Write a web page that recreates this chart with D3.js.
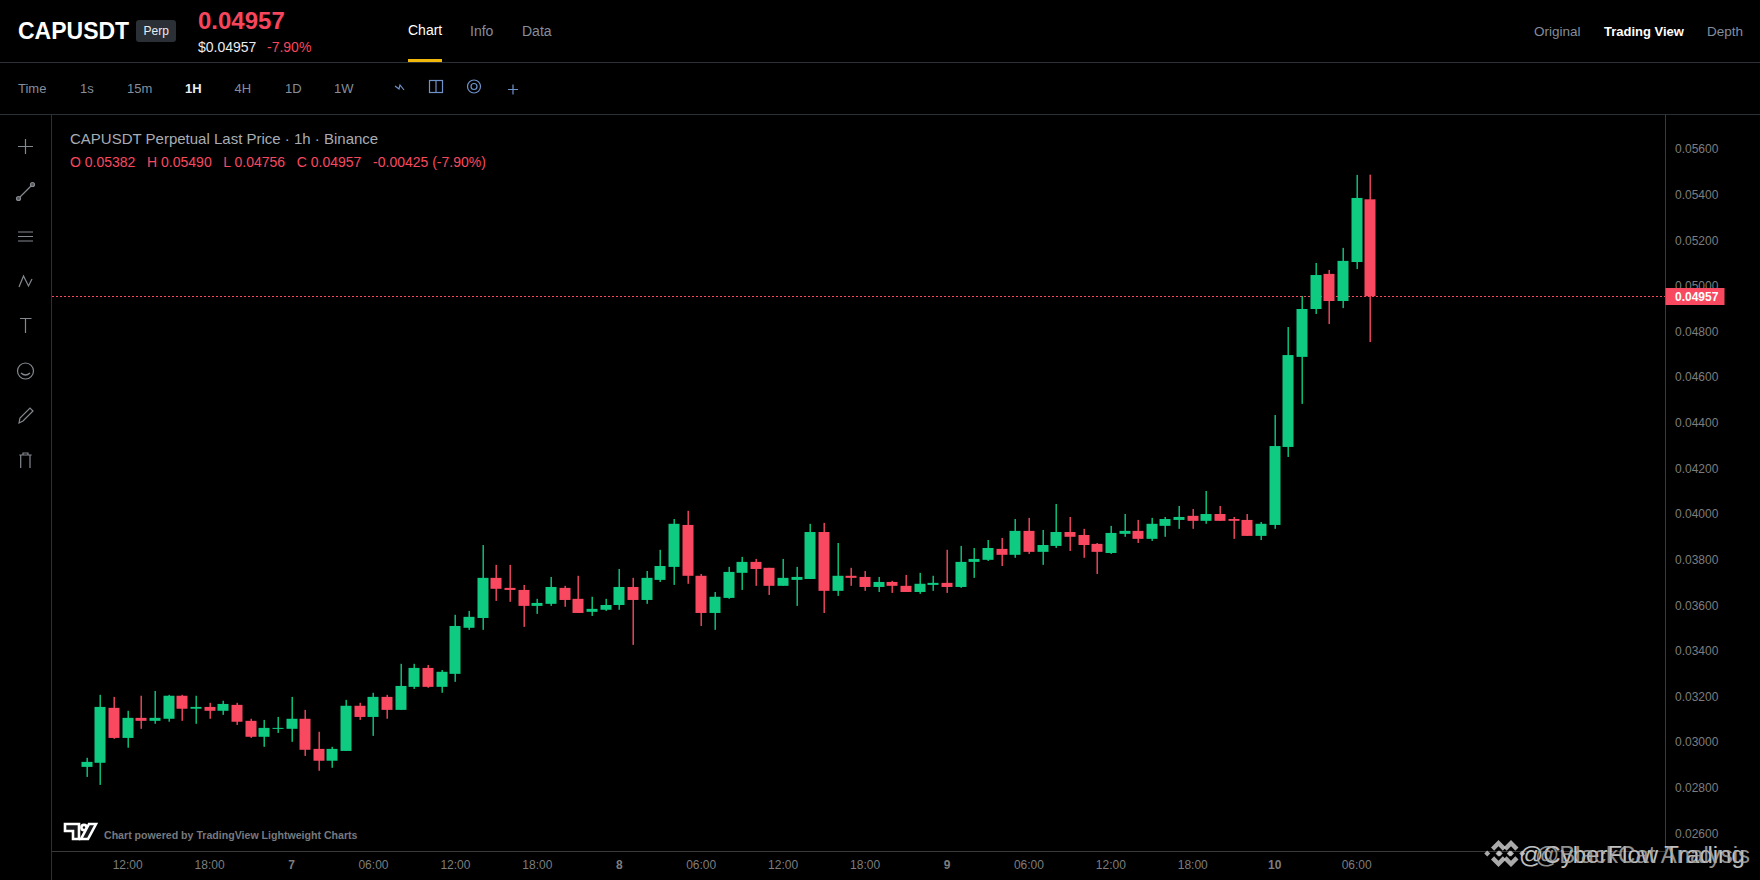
<!DOCTYPE html>
<html>
<head>
<meta charset="utf-8">
<script src="https://cdn.jsdelivr.net/npm/d3@7"></script>
<style>
html, body { margin: 0; padding: 0; background: #000; overflow: hidden; }
svg { display: block; font-family: "Liberation Sans", Arial, sans-serif; }
</style>
</head>
<body>
<svg id="chart" width="1760" height="880"></svg>
<script>
// hourly candles, 6th 09:00 to 10th 07:00
var opens = [.02893,.02911,.03152,.03020,.03108,.03095,.03104,.03205,.03148,.03156,.03139,.03165,.03095,.03025,.03060,.03060,.03104,.02972,.02920,.02963,.03161,.03112,.03200,.03143,.03244,.03327,.03244,.03301,.03503,.03546,.03722,.03678,.03669,.03599,.03608,.03678,.03630,.03573,.03582,.03603,.03682,.03625,.03713,.03770,.03954,.03731,.03568,.03634,.03744,.03792,.03766,.03687,.03713,.03717,.03923,.03665,.03731,.03726,.03682,.03704,.03687,.03660,.03691,.03700,.03682,.03792,.03801,.03849,.03823,.03928,.03836,.03862,.03923,.03910,.03871,.03831,.03915,.03928,.03893,.03950,.03976,.03994,.03972,.04002,.03980,.03976,.03906,.03954,.04296,.04691,.04901,.05055,.04936,.05107,.05382];
var highs = [.02933,.03209,.03200,.03139,.03205,.03226,.03209,.03209,.03205,.03174,.03183,.03174,.03104,.03099,.03112,.03200,.03143,.03047,.02981,.03187,.03174,.03218,.03209,.03345,.03345,.03340,.03318,.03560,.03577,.03866,.03779,.03779,.03691,.03630,.03726,.03687,.03731,.03639,.03630,.03761,.03722,.03752,.03845,.03980,.04016,.03739,.03660,.03770,.03814,.03805,.03766,.03805,.03770,.03959,.03963,.03875,.03766,.03752,.03726,.03709,.03735,.03744,.03731,.03845,.03862,.03853,.03888,.03897,.03980,.03985,.03932,.04046,.03989,.03937,.03875,.03950,.04002,.03976,.03985,.03989,.04037,.04024,.04103,.04037,.03989,.04002,.03967,.04436,.04822,.04958,.05103,.05072,.05169,.05489,.05490];
var lows = [.02849,.02814,.03016,.02977,.03060,.03082,.03091,.03095,.03082,.03104,.03121,.03077,.03020,.02981,.03042,.03003,.02941,.02876,.02889,.02963,.03099,.03029,.03104,.03143,.03235,.03240,.03218,.03266,.03494,.03494,.03621,.03617,.03507,.03564,.03599,.03595,.03568,.03555,.03577,.03582,.03428,.03608,.03704,.03691,.03696,.03511,.03494,.03630,.03669,.03687,.03647,.03687,.03599,.03717,.03568,.03643,.03687,.03665,.03660,.03656,.03660,.03652,.03665,.03656,.03678,.03722,.03796,.03774,.03810,.03827,.03779,.03853,.03840,.03810,.03739,.03827,.03902,.03875,.03884,.03902,.03937,.03937,.03959,.03972,.03893,.03906,.03888,.03937,.04252,.04485,.04879,.04835,.04905,.05076,.04756];
var closes = [.02915,.03156,.03020,.03108,.03095,.03108,.03205,.03148,.03156,.03139,.03169,.03091,.03025,.03064,.03064,.03104,.02968,.02920,.02972,.03161,.03112,.03200,.03143,.03248,.03327,.03244,.03310,.03511,.03551,.03722,.03674,.03669,.03599,.03612,.03682,.03625,.03568,.03586,.03603,.03682,.03625,.03722,.03774,.03959,.03731,.03568,.03639,.03748,.03792,.03761,.03687,.03722,.03726,.03923,.03665,.03731,.03722,.03682,.03704,.03687,.03660,.03696,.03700,.03682,.03792,.03805,.03853,.03823,.03928,.03836,.03866,.03923,.03902,.03866,.03836,.03919,.03928,.03893,.03959,.03980,.03989,.03972,.04002,.03972,.03972,.03906,.03959,.04300,.04699,.04901,.05050,.04936,.05112,.05388,.04957];

var timeTicks = [3, 9, 15, 21, 27, 33, 39, 45, 51, 57, 63, 69, 75, 81, 87, 93];
var timeLabels = ["12:00", "18:00", "7", "06:00", "12:00", "18:00", "8", "06:00", "12:00", "18:00", "9", "06:00", "12:00", "18:00", "10", "06:00"];
var priceTicks = [.056, .054, .052, .05, .048, .046, .044, .042, .04, .038, .036, .034, .032, .03, .028, .026];
var lastPrice = .04957;

var intervals = ["1s", "15m", "1H", "4H", "1D", "1W"];
var toolNames = ["Chart", "Info", "Data"];
var viewNames = ["Original", "Trading View", "Depth"];

var green = "#0ecb81", red = "#f84960", lineCol = "#2b2f36", axisCol = "#3a3a3a", grey = "#848e9c";

var svg = d3.select("#chart");
svg.append("rect").attr("width", 1760).attr("height", 880).attr("fill", "#000");

var x = d3.scaleLinear().domain([0, 94]).range([86.7, 1370.3]),
    y = d3.scaleLinear().domain([.026, .056]).range([833.7, 149.6]);

// header ----------------------------------------------------------
function label(g, px, py, txt, size, fill, weight) {
  return g.append("text").attr("x", px).attr("y", py).attr("font-size", size)
    .attr("fill", fill).attr("font-weight", weight || 400).text(txt);
}

var head = svg.append("g");
label(head, 18, 39, "CAPUSDT", 23, "#fff", 700);
head.append("rect").attr("x", 136).attr("y", 20).attr("width", 40).attr("height", 22).attr("rx", 3).attr("fill", "#2b2f36");
label(head, 143.5, 35, "Perp", 12, "#eaecef");
label(head, 198, 29, "0.04957", 24, "#f6465d", 700);
label(head, 198, 52, "$0.04957", 14, "#eaecef");
label(head, 267, 52, "-7.90%", 14, "#f6465d");

[[408, 35, "#fff"], [470, 36, grey], [522, 36, grey]].forEach(function(d, i) {
  label(head, d[0], d[1], toolNames[i], 14, d[2]);
});
head.append("rect").attr("x", 408).attr("y", 59).attr("width", 34).attr("height", 3).attr("fill", "#f0b90b");

[[1534, grey, 400, 13.5], [1604, "#fff", 700, 13], [1707, grey, 400, 13.5]].forEach(function(d, i) {
  label(head, d[0], 36, viewNames[i], d[3], d[1], d[2]);
});

head.append("path").attr("d", "M0,62.5H1760M0,114.5H1760").attr("stroke", lineCol);

label(head, 18, 93, "Time", 13, grey);
[[80, grey, 400], [127, grey, 400], [185, "#eaecef", 700], [234.5, grey, 400], [285, grey, 400], [334, grey, 400]].forEach(function(d, i) {
  label(head, d[0], 93, intervals[i], 13, d[1], d[2]);
});

// small toolbar icons
var bar = svg.append("g").attr("fill", "none").attr("stroke", "#6f93c9").attr("stroke-width", 1.2);
bar.append("path").attr("d", "M395,86l4,3 1,-4 4,5");
bar.append("rect").attr("x", 429.5).attr("y", 80.5).attr("width", 13).attr("height", 12);
bar.append("path").attr("d", "M436,80.5v12");
bar.append("circle").attr("cx", 474).attr("cy", 86.5).attr("r", 6.5);
bar.append("circle").attr("cx", 474).attr("cy", 86.5).attr("r", 3);
bar.append("path").attr("d", "M508,89.5h10M513,84.5v10");

// left drawing tools
var side = svg.append("g").attr("fill", "none").attr("stroke", "#84888f").attr("stroke-width", 1.2);
side.append("path").attr("d", "M18,146.5h15M25.5,139v15");
side.append("path").attr("d", "M19,198L32,185");
side.append("circle").attr("cx", 18.5).attr("cy", 198.5).attr("r", 2).attr("fill", "#555");
side.append("circle").attr("cx", 32.5).attr("cy", 184.5).attr("r", 2).attr("fill", "#555");
side.append("path").attr("d", "M18,232h15M18,236.5h15M18,241h15");
side.append("path").attr("d", "M19,287l4.5,-11 5,10 3.5,-7");
side.append("path").attr("d", "M20,318.5h11.5M25.5,318.5v14.5");
side.append("circle").attr("cx", 25.5).attr("cy", 371).attr("r", 8);
side.append("path").attr("d", "M21,373q4.5,4 9,0");
side.append("path").attr("d", "M19,423l1,-5 10,-10 3,3 -10,10z");
side.append("path").attr("d", "M20.7,468v-13M30,468v-13M19.3,455h12.4M23,455v-2h5v2");

svg.append("path").attr("d", "M51.5,114V880").attr("stroke", lineCol);

// chart legend ----------------------------------------------------
label(svg, 70, 144, "CAPUSDT Perpetual Last Price · 1h · Binance", 15, "#a8adb5");
label(svg, 70, 167, "O 0.05382   H 0.05490   L 0.04756   C 0.04957   -0.00425 (-7.90%)", 14, red).style("white-space", "pre");

// axes ------------------------------------------------------------
var xAxis = d3.axisBottom(x).tickValues(timeTicks).tickSize(0).tickPadding(9)
  .tickFormat(function(d, i) { return timeLabels[i]; });
var gx = svg.append("g").attr("transform", "translate(-0.5,851.5)").call(xAxis);
gx.select(".domain").remove();
gx.selectAll("text").attr("font-family", "Liberation Sans").attr("font-size", 12).attr("fill", "#7d7d7d")
  .attr("font-weight", function(d, i) { return timeLabels[i].length < 3 ? 700 : 400; });
svg.append("path").attr("d", "M51.5,851.5H1665.5").attr("stroke", axisCol);

var yAxis = d3.axisRight(y).tickValues(priceTicks).tickSize(0).tickPadding(9.5)
  .tickFormat(d3.format(".5f"));
var gy = svg.append("g").attr("transform", "translate(1665.5,-0.5)").call(yAxis);
gy.select(".domain").remove();
gy.selectAll("text").attr("font-family", "Liberation Sans").attr("font-size", 12).attr("fill", "#7d7d7d");
svg.append("path").attr("d", "M1665.5,114.5V851.5").attr("stroke", axisCol);

// last price line -------------------------------------------------
var lastY = Math.round(y(lastPrice)) + 0.5;
svg.append("line").attr("x1", 52).attr("x2", 1665)
  .attr("y1", lastY).attr("y2", lastY)
  .attr("stroke", red).attr("stroke-dasharray", "2,2");

// candles ---------------------------------------------------------
var candle = svg.append("g").selectAll("g").data(d3.range(opens.length)).enter().append("g")
  .attr("fill", function(i) { return closes[i] >= opens[i] ? green : red; });

candle.append("rect")
  .attr("x", function(i) { return Math.round(x(i)) - 0.5; })
  .attr("width", 1.4)
  .attr("y", function(i) { return y(highs[i]); })
  .attr("height", function(i) { return y(lows[i]) - y(highs[i]); });

candle.append("rect")
  .attr("x", function(i) { return Math.round(x(i)) - 5.5; })
  .attr("width", 11)
  .attr("y", function(i) { return y(Math.max(opens[i], closes[i])); })
  .attr("height", function(i) { return Math.max(1, Math.abs(y(opens[i]) - y(closes[i]))); });

// price tag
svg.append("rect").attr("x", 1665.5).attr("y", lastY - 8.5).attr("width", 59).attr("height", 17).attr("fill", red);
svg.append("text").attr("x", 1675).attr("y", lastY + 4.3).attr("font-size", 12).attr("font-weight", 700)
  .attr("fill", "#fff").text(d3.format(".5f")(lastPrice));

// lightweight charts credit
var logo = svg.append("g").attr("fill", "#15171a").attr("stroke", "#fff").attr("stroke-width", 2.6);
logo.append("path").attr("d", "M65,824h14v15h-6v-8h-8z");
logo.append("circle").attr("cx", 84).attr("cy", 827.5).attr("r", 2.6);
logo.append("path").attr("d", "M89,824h7l-8,15h-7z");
label(svg, 104, 839, "Chart powered by TradingView Lightweight Charts", 10.6, "#77797e", 700);

// watermark, two overlapped copies
var coinMark = "M12,3L17,8L14.9,10.1L12,7.2L9.1,10.1L7,8ZM12,21L17,16L14.9,13.9L12,16.8L9.1,13.9L7,16ZM4.5,10L6.5,12L4.5,14L2.5,12ZM19.5,10L21.5,12L19.5,14L17.5,12ZM12,10L14,12L12,14L10,12Z";
[[1498.5, 1519, "@CyberFlow Trading", "#e2e2e2"], [1511, 1535, "@BlackCat Analysis", "#a8a8a8"]].forEach(function(d) {
  svg.append("path").attr("transform", "translate(" + (d[0] - 18) + ",835.5) scale(1.5)")
    .attr("d", coinMark).attr("fill", "#c8c8c8").attr("opacity", 0.85);
  label(svg, d[1], 862.5, d[2], 24, d[3]).attr("opacity", 0.85);
});
</script>
</body>
</html>
